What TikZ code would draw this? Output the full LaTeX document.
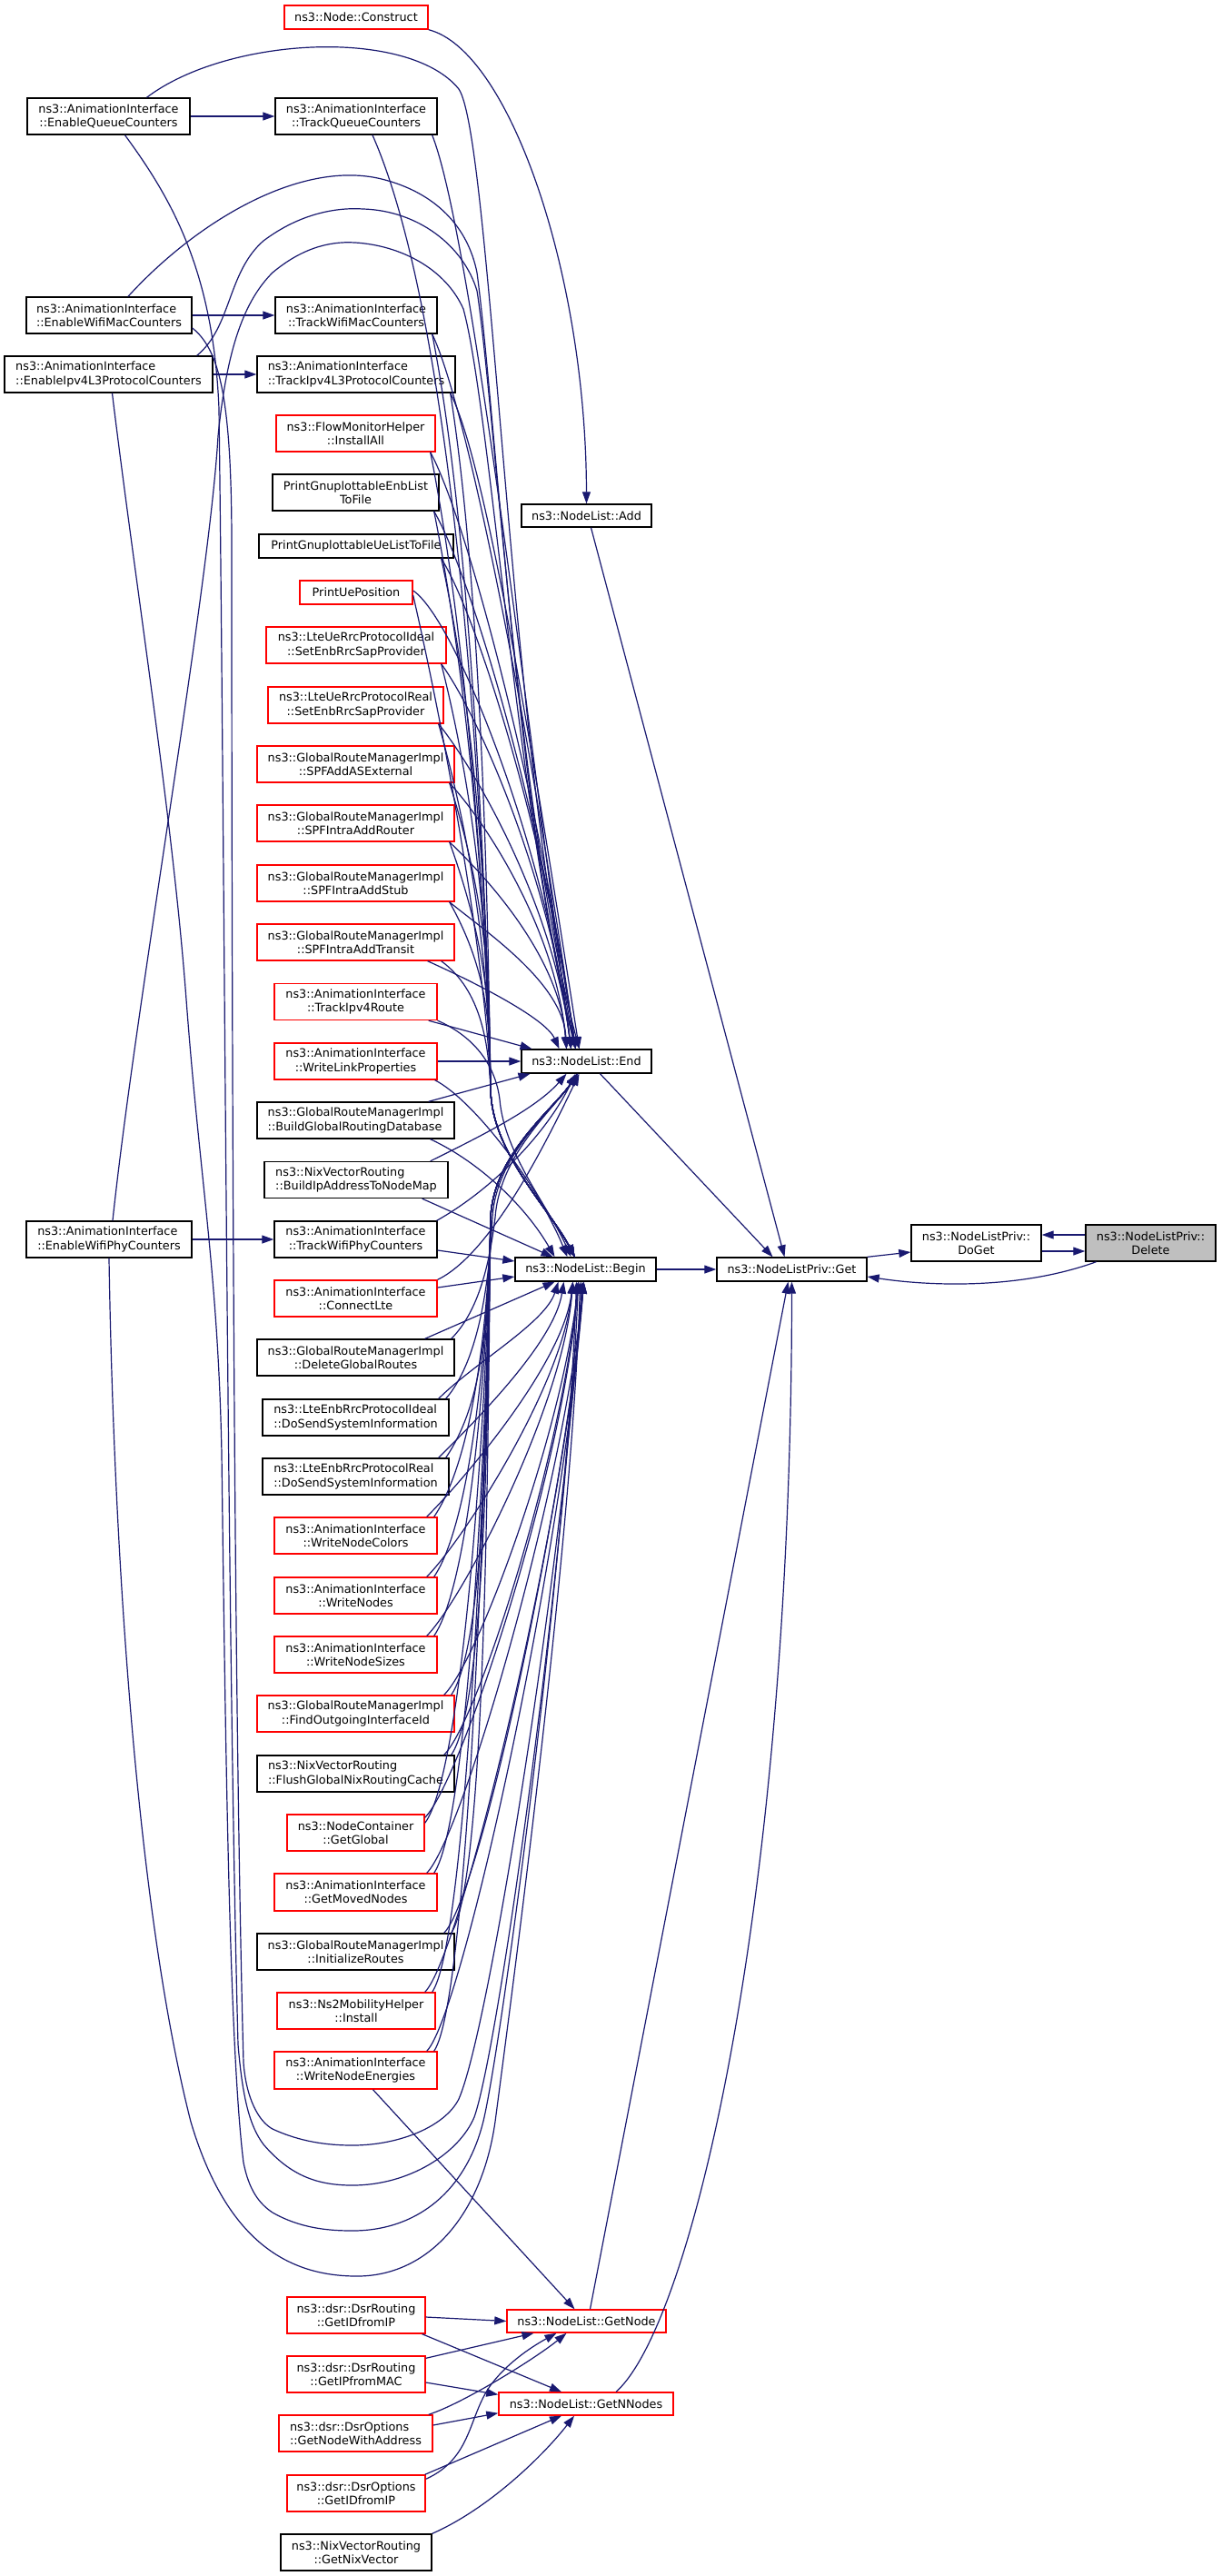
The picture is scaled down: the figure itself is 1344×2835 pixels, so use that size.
\documentclass[tikz,border=0pt]{standalone}
\usepackage{fontspec}
\setmainfont{DejaVu Sans}
\usetikzlibrary{arrows.meta}
\definecolor{edgec}{HTML}{191970}
\definecolor{redb}{HTML}{FF0000}
\definecolor{grayf}{HTML}{BFBFBF}
\tikzset{
  box/.style={draw=black, line width=1.4pt, fill=white, inner sep=0pt, align=center,
    font=\fontsize{12.8pt}{15.3pt}\selectfont},
  rbox/.style={box, draw=redb},
  lbox/.style={box, align=left},
  rlbox/.style={rbox, align=left},
  edge/.style={draw=edgec, line width=1.2pt, -{Triangle[length=13pt,width=9pt]}},
}
\newcommand\mknode[6]{\node[#1,minimum width=#2pt,minimum height=#3pt] (#4) at (#5) {#6};}
\begin{document}
\begin{tikzpicture}[x=1pt,y=-1pt]
\useasboundingbox (0,0) rectangle (1344,2835);
\fill[white] (0,0) rectangle (1344,2835);
% ---------------- nodes ----------------
\mknode{rbox}{158}{26}{construct}{392,19}{ns3::Node::Construct}
\mknode{box}{179}{40}{eqc}{119.5,128}{ns3::AnimationInterface\\::EnableQueueCounters}
\mknode{box}{178}{40}{tqc}{392,128}{ns3::AnimationInterface\\::TrackQueueCounters}
\mknode{lbox}{182}{40}{ewmc}{120,347}{ns3::AnimationInterface\\::EnableWifiMacCounters}
\mknode{box}{178}{40}{twmc}{392,347}{ns3::AnimationInterface\\::TrackWifiMacCounters}
\mknode{lbox}{229}{40}{eipv4}{119.5,412}{ns3::AnimationInterface\\::EnableIpv4L3ProtocolCounters}
\mknode{lbox}{218}{40}{tipv4}{392,412}{ns3::AnimationInterface\\::TrackIpv4L3ProtocolCounters}
\mknode{rbox}{175}{40}{flow}{391.5,477}{ns3::FlowMonitorHelper\\::InstallAll}
\mknode{box}{183}{40}{enb}{391.5,542}{PrintGnuplottableEnbList\\ToFile}
\mknode{box}{214}{26}{ue}{392,601}{PrintGnuplottableUeListToFile}
\mknode{rbox}{124}{26}{uepos}{392,652}{PrintUePosition}
\mknode{rbox}{198}{40}{lteideal}{392,710}{ns3::LteUeRrcProtocolIdeal\\::SetEnbRrcSapProvider}
\mknode{rbox}{193}{40}{ltereal}{391.5,776}{ns3::LteUeRrcProtocolReal\\::SetEnbRrcSapProvider}
\mknode{rbox}{217}{40}{spfas}{391.5,841}{ns3::GlobalRouteManagerImpl\\::SPFAddASExternal}
\mknode{rbox}{217}{40}{spfrouter}{391.5,906}{ns3::GlobalRouteManagerImpl\\::SPFIntraAddRouter}
\mknode{rbox}{217}{40}{spfstub}{391.5,972}{ns3::GlobalRouteManagerImpl\\::SPFIntraAddStub}
\mknode{rbox}{217}{40}{spftransit}{391.5,1037}{ns3::GlobalRouteManagerImpl\\::SPFIntraAddTransit}
\mknode{rbox}{179}{40}{tipvroute}{391.5,1102.5}{ns3::AnimationInterface\\::TrackIpv4Route}
\mknode{rbox}{179}{40}{wlp}{391.5,1168}{ns3::AnimationInterface\\::WriteLinkProperties}
\mknode{lbox}{217}{40}{bgrd}{391.5,1233}{ns3::GlobalRouteManagerImpl\\::BuildGlobalRoutingDatabase}
\mknode{lbox}{202}{40}{bip}{392,1298.5}{ns3::NixVectorRouting\\::BuildIpAddressToNodeMap}
\mknode{box}{179}{40}{twpc}{391.5,1364}{ns3::AnimationInterface\\::TrackWifiPhyCounters}
\mknode{lbox}{182}{40}{ewpc}{120,1364}{ns3::AnimationInterface\\::EnableWifiPhyCounters}
\mknode{rbox}{179}{40}{connectlte}{391.5,1429}{ns3::AnimationInterface\\::ConnectLte}
\mknode{box}{217}{40}{dgr}{391.5,1494}{ns3::GlobalRouteManagerImpl\\::DeleteGlobalRoutes}
\mknode{lbox}{205}{40}{enbideal}{391.5,1560}{ns3::LteEnbRrcProtocolIdeal\\::DoSendSystemInformation}
\mknode{lbox}{205}{40}{enbreal}{391.5,1625}{ns3::LteEnbRrcProtocolReal\\::DoSendSystemInformation}
\mknode{rbox}{179}{40}{wnc}{391.5,1690}{ns3::AnimationInterface\\::WriteNodeColors}
\mknode{rbox}{179}{40}{wn}{391.5,1756}{ns3::AnimationInterface\\::WriteNodes}
\mknode{rbox}{179}{40}{wns}{391.5,1821}{ns3::AnimationInterface\\::WriteNodeSizes}
\mknode{rbox}{217}{40}{foi}{391.5,1886}{ns3::GlobalRouteManagerImpl\\::FindOutgoingInterfaceId}
\mknode{lbox}{217}{40}{flush}{391.5,1952}{ns3::NixVectorRouting\\::FlushGlobalNixRoutingCache}
\mknode{rbox}{151}{40}{getglobal}{391.5,2017}{ns3::NodeContainer\\::GetGlobal}
\mknode{rbox}{179}{41}{gmn}{391.5,2082.5}{ns3::AnimationInterface\\::GetMovedNodes}
\mknode{box}{217}{40}{ir}{391.5,2148}{ns3::GlobalRouteManagerImpl\\::InitializeRoutes}
\mknode{rbox}{174}{40}{ns2}{392,2213}{ns3::Ns2MobilityHelper\\::Install}
\mknode{rbox}{179}{41}{wne}{391.5,2278.5}{ns3::AnimationInterface\\::WriteNodeEnergies}
\mknode{rbox}{152}{40}{dsrgetid}{392,2548}{ns3::dsr::DsrRouting\\::GetIDfromIP}
\mknode{rbox}{152}{40}{dsrgetip}{392,2613}{ns3::dsr::DsrRouting\\::GetIPfromMAC}
\mknode{rlbox}{169}{40}{dsrgnwa}{391.5,2678}{ns3::dsr::DsrOptions\\::GetNodeWithAddress}
\mknode{rbox}{152}{40}{dsroptid}{392,2744}{ns3::dsr::DsrOptions\\::GetIDfromIP}
\mknode{box}{166}{40}{nixvec}{392,2809}{ns3::NixVectorRouting\\::GetNixVector}
\mknode{box}{143}{25}{add}{645.5,567.5}{ns3::NodeList::Add}
\mknode{box}{143}{26}{nlend}{645.5,1168}{ns3::NodeList::End}
\mknode{box}{155}{26}{nlbegin}{644.5,1397}{ns3::NodeList::Begin}
\mknode{rbox}{175}{25}{getnode}{645.5,2554.5}{ns3::NodeList::GetNode}
\mknode{rbox}{192}{25}{getnnodes}{645,2645.5}{ns3::NodeList::GetNNodes}
\mknode{box}{165}{26}{get}{871.5,1397}{ns3::NodeListPriv::Get}
\mknode{box}{143}{40}{doget}{1074.5,1368}{ns3::NodeListPriv::\\DoGet}
\mknode{box, fill=grayf}{143}{40}{delete}{1266.5,1368}{ns3::NodeListPriv::\\Delete}
% ---------------- edges: right part ----------------
\draw[edge] (construct.south east) .. controls (560,55) and (645,300) .. (add.north);
\draw[edge] ([xshift=5pt]add.south) -- ([xshift=-8pt]get.north);
\draw[edge] ([xshift=15pt]nlend.south) -- ([xshift=-21pt]get.north);
\draw[edge] (nlbegin.east) -- (get.west);
\draw[edge] (get.north east) -- ([yshift=-10pt]doget.west);
\draw[edge] ([yshift=9pt]delete.west) -- ([yshift=9pt]doget.east);
\draw[edge] ([yshift=-9pt]doget.east) -- ([yshift=-9pt]delete.west);
\draw[edge] ([xshift=-60pt]delete.south) .. controls (1120,1420) and (1020,1415) .. ([yshift=-8pt]get.east);
\draw[edge] ([xshift=4pt]getnode.north) -- ([xshift=-4pt]get.south);
\draw[edge] ([xshift=33pt]getnnodes.north) .. controls (760,2560) and (871,2100) .. (get.south);
% ---------------- bottom dsr ----------------
\draw[edge] ([xshift=19pt]wne.south) -- ([xshift=-13pt]getnode.north);
\draw[edge] ([yshift=-2pt]dsrgetid.east) -- (getnode.west);
\draw[edge] ([xshift=-4pt]dsrgetid.south east) -- ([xshift=-27pt]getnnodes.north);
\draw[edge] ([yshift=-3pt]dsrgetip.north east) -- ([xshift=-58pt]getnode.south);
\draw[edge] ([yshift=-9pt]dsrgetip.east) -- ([yshift=-3pt]getnnodes.north west);
\draw[edge] ([xshift=-5pt]dsrgnwa.north east) .. controls (510,2645) and (590,2595) .. ([xshift=-22pt]getnode.south);
\draw[edge] ([yshift=9pt]dsrgnwa.east) -- ([yshift=3pt]getnnodes.south west);
\draw[edge] ([yshift=-5pt]dsroptid.north east) .. controls (520,2705) and (515,2660) .. (540,2625) .. controls (560,2598) and (590,2580) .. ([xshift=-33pt]getnode.south);
\draw[edge] ([xshift=-1pt]dsroptid.north east) -- ([xshift=-27pt]getnnodes.south);
\draw[edge] (nixvec.north east) .. controls (540,2760) and (600,2700) .. ([xshift=-13pt]getnnodes.south);
% ---------------- left column ----------------
\draw[edge] (eqc.east) -- (tqc.west);
\draw[edge] (ewmc.east) -- (twmc.west);
\draw[edge] (eipv4.east) -- (tipv4.west);
\draw[edge] (ewpc.east) -- (twpc.west);
% arcs over the top to End
\draw[edge] ([xshift=42pt]eqc.north) .. controls (250,40) and (450,30) .. (505,98) .. controls (540,150) and (560,800) .. ([xshift=-12pt]nlend.north);
\draw[edge] ([xshift=21pt]ewmc.north) .. controls (215,245) and (330,175) .. (420,197) .. controls (480,212) and (515,250) .. (525,300) .. controls (545,450) and (570,900) .. ([xshift=-12pt]nlend.north);
\draw[edge] ([xshift=-18pt]eipv4.north east) .. controls (255,360) and (250,300) .. (290,265) .. controls (330,235) and (370,228) .. (400,230) .. controls (460,232) and (510,270) .. (525,320) .. controls (545,450) and (570,900) .. ([xshift=-8pt]nlend.north);
\draw[edge] ([xshift=4pt]ewpc.north) .. controls (150,1100) and (230,650) .. (240,480) .. controls (250,380) and (270,330) .. (300,300) .. controls (330,275) and (360,265) .. (391,267) .. controls (440,270) and (490,295) .. (510,340) .. controls (540,450) and (570,900) .. ([xshift=-12pt]nlend.north);
% rails and loops to Begin
\draw[edge] ([xshift=18pt]eqc.south) .. controls (190,220) and (235,300) .. (241,450) .. controls (247,900) and (250,1800) .. (262,2250) .. controls (267,2310) and (275,2340) .. (290,2360) .. controls (320,2395) and (350,2405) .. (388,2405) .. controls (450,2405) and (505,2370) .. (522,2330) .. controls (550,2250) and (625,1700) .. ([xshift=-8pt]nlbegin.south);
\draw[edge] ([yshift=-14pt]ewmc.east) .. controls (242,385) and (255,440) .. (255,600) .. controls (255,1200) and (258,1900) .. (268,2270) .. controls (271,2310) and (285,2335) .. (300,2343) .. controls (330,2357) and (360,2361) .. (388,2361) .. controls (440,2361) and (490,2340) .. (505,2310) .. controls (540,2230) and (622,1700) .. ([xshift=-4pt]nlbegin.south);
\draw[edge] ([xshift=4pt]eipv4.south) .. controls (150,650) and (190,900) .. (205,1100) .. controls (220,1300) and (240,1400) .. (244,1600) .. controls (248,1900) and (252,2250) .. (268,2380) .. controls (274,2410) and (285,2425) .. (300,2435) .. controls (330,2452) and (360,2455) .. (388,2455) .. controls (460,2455) and (515,2410) .. (533,2330) .. controls (555,2230) and (625,1700) .. ([xshift=-10pt]nlbegin.south);
\draw[edge] (ewpc.south) .. controls (125,1700) and (150,2100) .. (210,2335) .. controls (250,2470) and (320,2505) .. (393,2505) .. controls (470,2505) and (530,2440) .. (545,2335) .. controls (560,2220) and (630,1700) .. ([xshift=-6pt]nlbegin.south);
% ---------------- middle: above End -> End ----------------
\draw[edge] ([xshift=-6pt]tqc.south east) .. controls (515,249) and (570,702) .. ([xshift=-17pt]nlend.north);
\draw[edge] ([xshift=-6pt]twmc.south east) .. controls (515,450) and (583,800) .. ([xshift=-12pt]nlend.north);
\draw[edge] ([xshift=-6pt]tipv4.south east) .. controls (535,510) and (587,830) .. ([xshift=-8pt]nlend.north);
\draw[edge] ([xshift=-6pt]flow.south east) .. controls (513,570) and (590,859) .. ([xshift=-12pt]nlend.north);
\draw[edge] ([xshift=-6pt]enb.south east) .. controls (517,630) and (594,888) .. ([xshift=-12pt]nlend.north);
\draw[edge] ([xshift=-14pt]ue.south east) .. controls (525,677) and (598,912) .. ([xshift=-12pt]nlend.north);
\draw[edge] ([yshift=2pt]uepos.east) .. controls (500,680) and (600,929) .. ([xshift=-17pt]nlend.north);
\draw[edge] ([xshift=-6pt]lteideal.south east) .. controls (525,784) and (605,964) .. ([xshift=-17pt]nlend.north);
\draw[edge] ([xshift=-6pt]ltereal.south east) .. controls (522,845) and (608,993) .. ([xshift=-17pt]nlend.north);
\draw[edge] ([xshift=-6pt]spfas.south east) .. controls (534,904) and (612,1023) .. ([xshift=-22pt]nlend.north);
\draw[edge] ([xshift=-6pt]spfrouter.south east) .. controls (534,964) and (616,1052) .. ([xshift=-22pt]nlend.north);
\draw[edge] ([xshift=-6pt]spfstub.south east) .. controls (534,1025) and (620,1082) .. ([xshift=-22pt]nlend.north);
\draw[edge] ([xshift=-30pt]spftransit.south east) .. controls (520,1080) and (600,1120) .. ([xshift=-30pt]nlend.north);
\draw[edge] ([xshift=-10pt]tipvroute.south east) -- ([xshift=-60pt]nlend.north);
\draw[edge] (wlp.east) -- (nlend.west);
% ---------------- middle: above End -> Begin ----------------
\draw[edge] ([xshift=18pt]tqc.south) .. controls (520,398) and (538,1100) .. (540,1200) .. controls (542,1270) and (605,1330) .. ([xshift=-12pt]nlbegin.north);
\draw[edge] ([xshift=-6pt]twmc.south east) .. controls (525,617) and (538,1100) .. (540,1200) .. controls (542,1270) and (605,1330) .. ([xshift=-12pt]nlbegin.north);
\draw[edge] ([xshift=-6pt]tipv4.south east) .. controls (535,682) and (538,1100) .. (540,1200) .. controls (542,1270) and (605,1330) .. ([xshift=-12pt]nlbegin.north);
\draw[edge] ([xshift=-6pt]flow.south east) .. controls (523,747) and (538,1100) .. (540,1200) .. controls (542,1270) and (605,1330) .. ([xshift=-12pt]nlbegin.north);
\draw[edge] ([xshift=-6pt]enb.south east) .. controls (527,812) and (538,1100) .. (540,1200) .. controls (542,1270) and (605,1330) .. ([xshift=-12pt]nlbegin.north);
\draw[edge] ([xshift=-14pt]ue.south east) .. controls (535,845) and (538,1100) .. (540,1200) .. controls (542,1270) and (605,1330) .. ([xshift=-12pt]nlbegin.north);
\draw[edge] ([yshift=-3pt]uepos.east) .. controls (504,872) and (538,1100) .. (540,1200) .. controls (542,1270) and (605,1330) .. ([xshift=-12pt]nlbegin.north);
\draw[edge] ([xshift=-6pt]lteideal.south east) .. controls (535,926) and (538,1100) .. (540,1200) .. controls (542,1270) and (605,1330) .. ([xshift=-12pt]nlbegin.north);
\draw[edge] ([xshift=-6pt]ltereal.south east) .. controls (532,972) and (538,1110) .. (540,1200) .. controls (542,1270) and (605,1330) .. ([xshift=-12pt]nlbegin.north);
\draw[edge] ([xshift=-6pt]spfas.south east) .. controls (544,1018) and (538,1120) .. (540,1200) .. controls (542,1270) and (605,1330) .. ([xshift=-12pt]nlbegin.north);
\draw[edge] ([xshift=-6pt]spfrouter.south east) .. controls (544,1063) and (538,1140) .. (540,1200) .. controls (542,1270) and (605,1330) .. ([xshift=-12pt]nlbegin.north);
\draw[edge] ([xshift=-6pt]spfstub.south east) .. controls (544,1080) and (538,1150) .. (540,1200) .. controls (542,1270) and (605,1330) .. ([xshift=-12pt]nlbegin.north);
\draw[edge] ([xshift=-15pt]spftransit.south east) .. controls (530,1090) and (538,1150) .. (540,1200) .. controls (542,1270) and (605,1330) .. ([xshift=-12pt]nlbegin.north);
\draw[edge] (tipvroute.south east) .. controls (520,1140) and (545,1170) .. (550,1210) .. controls (555,1270) and (605,1330) .. ([xshift=-16pt]nlbegin.north);
\draw[edge] ([xshift=-3pt]wlp.south east) .. controls (520,1210) and (590,1300) .. ([xshift=-20pt]nlbegin.north);
% ---------------- middle: between End and Begin ----------------
\draw[edge] ([xshift=-29pt]bgrd.north east) -- ([xshift=-62pt]nlend.south);
\draw[edge] ([xshift=-27pt]bgrd.south east) .. controls (530,1280) and (580,1330) .. ([xshift=-34pt]nlbegin.north);
\draw[edge] ([xshift=-20pt]bip.north east) .. controls (530,1250) and (590,1220) .. ([xshift=-22pt]nlend.south);
\draw[edge] ([xshift=-29pt]bip.south east) -- ([xshift=-36pt]nlbegin.north);
\draw[edge] ([xshift=-1pt]twpc.north east) .. controls (540,1310) and (600,1250) .. ([xshift=-12pt]nlend.south);
\draw[edge] ([yshift=-12pt]twpc.east) -- ([yshift=9pt]nlbegin.west);
\draw[edge] (connectlte.north east) .. controls (540,1380) and (600,1260) .. ([xshift=-8pt]nlend.south);
\draw[edge] ([yshift=12pt]connectlte.east) -- ([yshift=-8pt]nlbegin.west);
% ---------------- middle: below Begin -> End ----------------
\draw[edge] ([xshift=-4pt]dgr.north east) .. controls (530,1440) and (540,1380) .. (545,1340) .. controls (550,1270) and (610,1220) .. ([xshift=-10pt]nlend.south);
\draw[edge] ([xshift=-4pt]enbideal.north east) .. controls (525,1500) and (538,1420) .. (542,1340) .. controls (546,1270) and (610,1220) .. ([xshift=-10pt]nlend.south);
\draw[edge] ([xshift=-4pt]enbreal.north east) .. controls (531,1545) and (537,1460) .. (540,1340) .. controls (543,1270) and (610,1220) .. ([xshift=-10pt]nlend.south);
\draw[edge] ([xshift=-4pt]wnc.north east) .. controls (518,1610) and (537,1470) .. (540,1340) .. controls (543,1270) and (610,1220) .. ([xshift=-10pt]nlend.south);
\draw[edge] ([xshift=-4pt]wn.north east) .. controls (518,1676) and (537,1480) .. (540,1340) .. controls (543,1270) and (610,1220) .. ([xshift=-10pt]nlend.south);
\draw[edge] ([xshift=-4pt]wns.north east) .. controls (518,1741) and (537,1490) .. (540,1340) .. controls (543,1270) and (610,1220) .. ([xshift=-10pt]nlend.south);
\draw[edge] ([xshift=-4pt]foi.north east) .. controls (537,1806) and (537,1500) .. (540,1340) .. controls (543,1270) and (610,1220) .. ([xshift=-10pt]nlend.south);
\draw[edge] ([xshift=-4pt]flush.north east) .. controls (537,1872) and (537,1510) .. (540,1340) .. controls (543,1270) and (610,1220) .. ([xshift=-10pt]nlend.south);
\draw[edge] ([yshift=-10pt]getglobal.north east) .. controls (512,1947) and (537,1520) .. (540,1340) .. controls (543,1270) and (610,1220) .. ([xshift=-10pt]nlend.south);
\draw[edge] ([xshift=-4pt]gmn.north east) .. controls (518,2002) and (537,1530) .. (540,1340) .. controls (543,1270) and (610,1220) .. ([xshift=-10pt]nlend.south);
\draw[edge] ([xshift=-4pt]ir.north east) .. controls (537,2068) and (537,1540) .. (540,1340) .. controls (543,1270) and (610,1220) .. ([xshift=-10pt]nlend.south);
\draw[edge] ([xshift=-4pt]ns2.north east) .. controls (516,2133) and (537,1550) .. (540,1340) .. controls (543,1270) and (610,1220) .. ([xshift=-10pt]nlend.south);
\draw[edge] ([xshift=-4pt]wne.north east) .. controls (518,2198) and (537,1560) .. (540,1340) .. controls (543,1270) and (610,1220) .. ([xshift=-10pt]nlend.south);
% ---------------- middle: below Begin -> Begin ----------------
\draw[edge] ([xshift=-33pt]dgr.north east) -- ([xshift=-34pt]nlbegin.south);
\draw[edge] ([xshift=-12pt]enbideal.north east) .. controls (522,1500) and (600,1456) .. ([xshift=-30pt]nlbegin.south);
\draw[edge] ([xshift=-12pt]enbreal.north east) .. controls (522,1565) and (610,1478) .. ([xshift=-24pt]nlbegin.south);
\draw[edge] ([xshift=-12pt]wnc.north east) .. controls (509,1630) and (620,1501) .. ([xshift=-14pt]nlbegin.south);
\draw[edge] ([xshift=-12pt]wn.north east) .. controls (509,1696) and (620,1524) .. ([xshift=-14pt]nlbegin.south);
\draw[edge] ([xshift=-12pt]wns.north east) .. controls (509,1761) and (620,1547) .. ([xshift=-14pt]nlbegin.south);
\draw[edge] ([xshift=-12pt]foi.north east) .. controls (528,1826) and (620,1570) .. ([xshift=-8pt]nlbegin.south);
\draw[edge] ([xshift=-12pt]flush.north east) .. controls (528,1892) and (620,1593) .. ([xshift=-8pt]nlbegin.south);
\draw[edge] ([yshift=-4pt]getglobal.north east) .. controls (507,1961) and (620,1619) .. ([xshift=-8pt]nlbegin.south);
\draw[edge] ([xshift=-12pt]gmn.north east) .. controls (509,2022) and (620,1638) .. ([xshift=-2pt]nlbegin.south);
\draw[edge] ([xshift=-12pt]ir.north east) .. controls (528,2088) and (620,1661) .. ([xshift=-2pt]nlbegin.south);
\draw[edge] ([xshift=-12pt]ns2.north east) .. controls (507,2153) and (620,1684) .. ([xshift=-2pt]nlbegin.south);
\draw[edge] ([xshift=-12pt]wne.north east) .. controls (509,2218) and (620,1707) .. ([xshift=-2pt]nlbegin.south);
\end{tikzpicture}
\end{document}
